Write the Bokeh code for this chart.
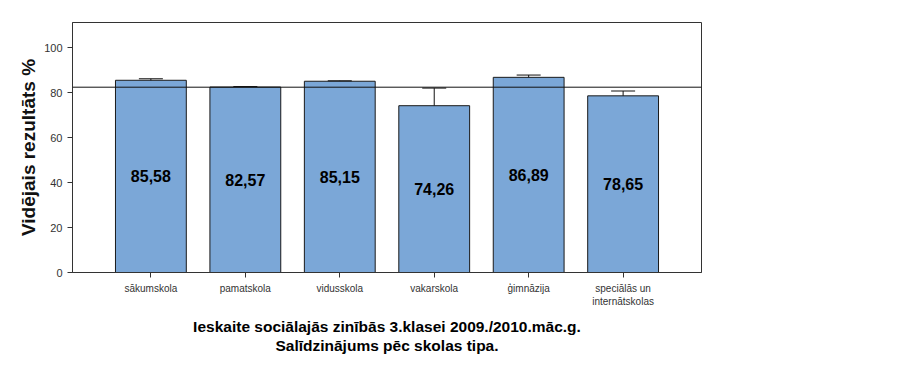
from bokeh.plotting import figure
from bokeh.models import ColumnDataSource, Whisker, Span, Title, FixedTicker, Range1d, TeeHead
from bokeh.core.properties import value
from bokeh.embed import file_html
from bokeh.resources import INLINE

categories = ["sākumskola", "pamatskola", "vidusskola", "vakarskola", "ģimnāzija", "speciālās un\ninternātskolas"]
means = [85.58, 82.57, 85.15, 74.26, 86.89, 78.65]
lower = [84.95, 82.35, 84.95, 66.5, 85.9, 76.85]
upper = [86.25, 82.8, 85.35, 82.1, 87.9, 80.8]
overall_mean = 82.5
y_ticks = [0, 20, 40, 60, 80, 100]
title_lines = ["Ieskaite sociālajās zinībās 3.klasei 2009./2010.māc.g.", "Salīdzinājums pēc skolas tipa."]

FONT = "Liberation Sans"

xs = list(range(len(categories)))
labels = [f"{m:.2f}".replace(".", ",") for m in means]
src = ColumnDataSource(dict(x=xs, top=means, lower=lower, upper=upper,
                            mid=[m / 2 for m in means], label=labels))

p = figure(frame_width=629, frame_height=250, output_backend="svg", toolbar_location=None,
           x_range=Range1d(-0.83, len(categories) - 1 + 0.83), y_range=Range1d(0, 111.3),
           min_border_left=72, min_border_top=22, min_border_right=200, min_border_bottom=0)
p.background_fill_color = "white"
p.outline_line_color = "#333333"
p.outline_line_width = 1
p.xgrid.visible = False
p.ygrid.visible = False

p.vbar(x="x", top="top", width=0.75, source=src, fill_color="#7BA7D7",
       line_color="#1a1a1a", line_width=1)

w = Whisker(base="x", lower="lower", upper="upper", source=src, line_color="#111111", line_width=1,
            upper_head=TeeHead(size=24, line_color="#111111", line_width=1),
            lower_head=TeeHead(size=24, line_color="#111111", line_width=1))
p.add_layout(w)

p.add_layout(Span(location=overall_mean, dimension="width", line_color="#111111", line_width=1))

p.text(x="x", y="mid", text="label", source=src, text_align="center", text_baseline="middle",
       text_font=value(FONT), text_font_style="bold", text_font_size="16px", text_color="black")

p.yaxis.ticker = FixedTicker(ticks=y_ticks)
p.yaxis.axis_label = "Vidējais rezultāts %"
p.yaxis.axis_label_text_font = FONT
p.yaxis.axis_label_text_font_style = "bold"
p.yaxis.axis_label_text_font_size = "19px"
p.yaxis.axis_label_text_color = "#111111"
p.yaxis.axis_label_standoff = 2
p.yaxis.major_label_text_font = FONT
p.yaxis.major_label_text_font_size = "11px"
p.yaxis.major_label_text_color = "#333333"
p.yaxis.minor_tick_line_color = None
p.yaxis.major_tick_out = 5
p.yaxis.major_tick_in = 0
p.yaxis.axis_line_color = "#333333"
p.yaxis.major_tick_line_color = "#333333"

p.xaxis.ticker = FixedTicker(ticks=xs)
p.xaxis.major_label_overrides = {i: c for i, c in enumerate(categories)}
p.xaxis.major_label_text_font = FONT
p.xaxis.major_label_text_font_size = "10px"
p.xaxis.major_label_text_color = "#333333"
p.xaxis.minor_tick_line_color = None
p.xaxis.major_tick_out = 5
p.xaxis.major_tick_in = 0
p.xaxis.axis_line_color = "#333333"
p.xaxis.major_tick_line_color = "#333333"

t = Title(text="\n".join(title_lines), align="center",
          text_font=FONT, text_font_size="15.5px", text_font_style="bold",
          text_color="black", text_line_height=1.15, standoff=12)
try:
    t.text_align = "center"
except Exception:
    pass
p.add_layout(t, "below")

open("out.html", "w").write(file_html(p, INLINE))
